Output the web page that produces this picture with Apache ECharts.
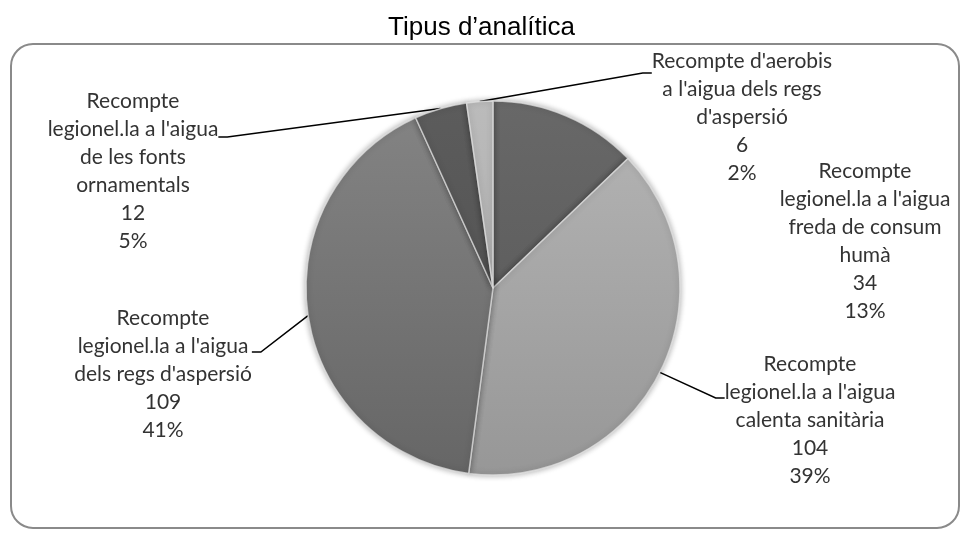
<!DOCTYPE html>
<html>
<head>
<meta charset="utf-8">
<script src="https://cdn.jsdelivr.net/npm/echarts@6/dist/echarts.min.js"></script>
<style>
  html, body { margin: 0; padding: 0; background: #fff; }
  #chart { width: 963px; height: 533px; }
</style>
</head>
<body>
<div id="chart"></div>
<script>
// dades del gràfic
var categories = [
  "Recompte\nlegionel.la a l'aigua\nfreda de consum\nhumà",
  "Recompte\nlegionel.la a l'aigua\ncalenta sanitària",
  "Recompte\nlegionel.la a l'aigua\ndels regs d'aspersió",
  "Recompte\nlegionel.la a l'aigua\nde les fonts\nornamentals",
  "Recompte d'aerobis\na l'aigua dels regs\nd'aspersió"
];
var values = [34, 104, 109, 12, 6];

// estil i posició de les etiquetes (no són dades)
var shades = [
  ['#686868', '#555555'],
  ['#b5b5b5', '#979797'],
  ['#848484', '#666666'],
  ['#5c5c5c', '#4e4e4e'],
  ['#bbbbbb', '#a6a6a6']
];
// [x centre del text, y centre del text, y on arriba la línia]
var labelPos = [
  [865, 241, 241],
  [810, 420, 398],
  [163, 374, 352],
  [133, 171, 137],
  [742, 117, 73]
];
var cx = 493, cy = 288, R = 187;

// una línia buida a dalt de cada etiqueta fa que la línia guia arribi més amunt
var rich = {};
labelPos.forEach(function (p, i) {
  var h = Math.max(1, 2 * (p[1] - p[2]));
  rich['g' + i] = { fontSize: 1, lineHeight: h, height: h };
});

var chart = echarts.init(document.getElementById('chart'));

var pieData = values.map(function (v, i) {
  return {
    name: categories[i],
    value: v,
    itemStyle: {
      color: new echarts.graphic.LinearGradient(0, cy - R, 0, cy + R, [
        { offset: 0, color: shades[i][0] },
        { offset: 1, color: shades[i][1] }
      ], true)
    },
    labelLine: { show: i !== 0 }
  };
});

var option = {
  animation: false,
  title: {
    text: 'Tipus d\u2019analítica',
    left: 'center',
    top: 10,
    textStyle: {
      fontFamily: 'Liberation Sans, Arial',
      fontSize: 26,
      fontWeight: 'normal',
      color: '#000'
    }
  },
  graphic: [{
    type: 'rect',
    shape: { x: 11, y: 44, width: 948, height: 484, r: 22 },
    style: { fill: 'none', stroke: '#8a8a8a', lineWidth: 2 },
    silent: true
  }],
  series: [{
    type: 'pie',
    center: [cx, cy],
    radius: R,
    startAngle: 90,
    clockwise: true,
    data: pieData,
    itemStyle: {
      borderColor: 'rgba(230,230,230,0.7)',
      borderWidth: 1.5,
      shadowBlur: 6,
      shadowColor: 'rgba(0,0,0,0.35)'
    },
    label: {
      show: true,
      position: 'outside',
      fontFamily: 'Lato',
      fontSize: 21,
      lineHeight: 28,
      color: '#333',
      align: 'center',
      rich: rich,
      formatter: function (p) {
        return '{g' + p.dataIndex + '| }\n' + p.name + '\n' + p.value + '\n' + Math.round(p.percent) + '%';
      }
    },
    labelLine: {
      show: true,
      length: 10,
      length2: 9,
      smooth: false,
      lineStyle: { color: '#000', width: 1.5 }
    },
    labelLayout: function (params) {
      var p = labelPos[params.dataIndex];
      return {
        x: p[0],
        y: p[2],
        align: 'center',
        verticalAlign: 'middle'
      };
    }
  }]
};

chart.setOption(option);
</script>
</body>
</html>
